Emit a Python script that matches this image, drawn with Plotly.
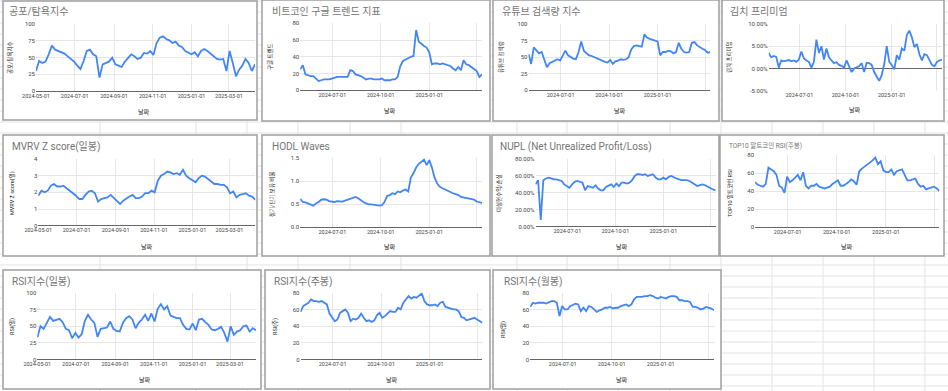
import plotly.graph_objects as go
import pandas as pd

W, H = 948, 391

# ---- data (one reading every 5 days) ----
dates = pd.date_range('2024-05-01', periods=70, freq='5D')

fear_greed = [30, 45, 42, 44, 55, 68, 62, 60, 57, 56, 52, 48, 44, 38, 33, 45, 60, 62, 55, 52,
              20, 40, 42, 44, 50, 40, 38, 36, 44, 50, 55, 52, 48, 50, 57, 56, 60, 54, 72, 80,
              82, 78, 76, 72, 74, 68, 66, 60, 57, 55, 58, 52, 60, 63, 60, 56, 52, 48, 47, 48,
              30, 60, 42, 22, 32, 38, 48, 42, 30, 40]
google_trend = [25, 30, 19, 18, 17, 17, 14, 11, 12, 13, 13, 13, 14, 15, 16, 16, 16, 16, 16, 24,
                23, 19, 18, 17, 15, 13, 14, 14, 13, 13, 13, 14, 12, 12, 12, 13, 13, 16, 29, 35,
                37, 38, 40, 41, 72, 58, 55, 53, 51, 45, 31, 32, 32, 31, 32, 31, 30, 29, 26, 24,
                28, 24, 36, 31, 30, 28, 26, 23, 16, 19]
youtube = [55, 40, 65, 60, 56, 58, 48, 35, 41, 43, 45, 47, 45, 52, 60, 53, 50, 48, 47, 58,
           74, 60, 56, 53, 52, 50, 48, 47, 44, 43, 42, 46, 40, 44, 45, 47, 46, 47, 50, 62,
           67, 68, 67, 66, 85, 80, 78, 77, 76, 74, 53, 58, 58, 60, 59, 56, 58, 72, 63, 58,
           57, 58, 72, 73, 68, 65, 63, 61, 57, 58]
kimchi = [3.5, 2.5, 2.8, 2.6, 0.2, 1.8, 1.6, 1.7, 1.9, 1.6, 1.8, 1.5, 2.0, 3.8, 2.3, 1.8, 1.5, 0.2, 1.5, 6.5,
          3.5, 5.0, 2.0, 4.5, 2.5, 1.8, 1.2, 1.4, 0.8, 0.6, 0.2, 1.8, 0.5, -0.8, 0.0, 0.3, 0.5, 1.2, -0.8, 1.3,
          1.2, 0.8, -0.8, -1.8, -2.8, -1.5, 1.0, 5.0, 1.5, 0.8, -0.2, 3.0, 2.0, 4.5, 4.0, 7.5, 8.5, 7.0, 4.8, 5.5,
          3.2, 1.8, 3.2, 3.0, 1.8, 0.8, 0.5, 1.5, 1.8, 2.0]
mvrv_z = [1.8, 2.1, 2.0, 2.1, 2.4, 2.5, 2.35, 2.35, 2.4, 2.25, 2.15, 1.95, 1.8, 1.6, 1.6, 1.85, 2.05, 2.1, 1.95, 1.45,
          1.6, 1.65, 1.7, 1.85, 1.65, 1.45, 1.3, 1.5, 1.65, 1.75, 1.85, 1.65, 1.65, 1.75, 1.95, 1.95, 2.1, 2.0, 2.7, 3.0,
          3.1, 3.25, 3.2, 3.1, 3.15, 3.05, 3.35, 3.0, 2.85, 2.75, 2.6, 2.85, 3.0, 2.95, 2.8, 2.65, 2.5, 2.5, 2.45, 2.45,
          2.3, 1.95, 2.05, 1.7, 1.85, 1.9, 1.95, 1.8, 1.75, 1.55]
hodl = [0.62, 0.55, 0.54, 0.52, 0.49, 0.47, 0.52, 0.55, 0.60, 0.61, 0.60, 0.57, 0.56, 0.55, 0.57, 0.57, 0.56, 0.58, 0.60, 0.61,
        0.64, 0.66, 0.63, 0.58, 0.55, 0.52, 0.50, 0.50, 0.49, 0.48, 0.47, 0.48, 0.55, 0.68, 0.70, 0.74, 0.72, 0.78, 0.76, 0.80,
        0.82, 0.78, 1.08, 1.18, 1.30, 1.38, 1.42, 1.47, 1.35, 1.46, 1.30, 1.08, 0.95, 0.88, 0.85, 0.82, 0.80, 0.77, 0.74, 0.72,
        0.70, 0.66, 0.65, 0.63, 0.62, 0.62, 0.60, 0.56, 0.54, 0.53]
nupl = [50, 55, 8, 55, 57, 58, 57, 56, 56, 55, 54, 50, 48, 46, 50, 53, 54, 53, 52, 43,
        48, 47, 46, 49, 45, 43, 43, 47, 49, 50, 47, 51, 48, 52, 52, 51, 52, 55, 60, 62,
        62, 61, 62, 60, 61, 62, 58, 56, 56, 58, 56, 59, 60, 58, 57, 56, 55, 55, 55, 54,
        52, 49, 48, 49, 50, 49, 47, 46, 44, 43]
alt_rsi = [50, 47, 46, 45, 48, 66, 64, 62, 58, 46, 44, 38, 56, 50, 52, 55, 58, 52, 61, 46,
           43, 46, 46, 48, 45, 44, 43, 44, 45, 48, 50, 52, 46, 46, 48, 50, 53, 51, 47, 62,
           65, 67, 69, 72, 74, 77, 70, 73, 63, 61, 61, 64, 58, 62, 63, 64, 58, 52, 52, 53,
           54, 48, 45, 46, 42, 43, 44, 45, 43, 40]
rsi_day = [33, 50, 46, 55, 64, 58, 60, 61, 56, 46, 44, 32, 40, 33, 38, 58, 67, 60, 55, 34,
           46, 47, 48, 57, 46, 43, 42, 55, 62, 65, 60, 47, 55, 60, 67, 58, 69, 57, 76, 83,
           75, 80, 66, 64, 62, 62, 52, 46, 45, 54, 44, 60, 61, 56, 52, 45, 44, 46, 49, 40,
           27, 50, 37, 42, 44, 50, 51, 42, 47, 44]
rsi_week = [57, 64, 66, 68, 72, 70, 70, 69, 70, 68, 66, 55, 50, 46, 48, 56, 58, 60, 56, 46,
            49, 48, 50, 55, 50, 46, 47, 45, 47, 53, 56, 50, 52, 55, 58, 57, 57, 62, 60, 68,
            72, 76, 73, 75, 74, 76, 79, 70, 66, 65, 65, 66, 64, 68, 69, 63, 62, 61, 60, 60,
            58, 51, 50, 47, 48, 49, 50, 48, 46, 44]
rsi_month = [63, 68, 67, 68, 68, 68, 67, 69, 70, 70, 68, 52, 64, 60, 60, 64, 66, 67, 66, 58,
             62, 58, 64, 63, 60, 57, 59, 60, 62, 62, 63, 61, 62, 62, 64, 65, 66, 64, 66, 72,
             75, 75, 75, 76, 76, 77, 76, 74, 73, 75, 74, 73, 75, 76, 76, 75, 71, 71, 70, 70,
             69, 63, 63, 62, 60, 61, 63, 62, 61, 59]

BI_TICKS = ['2024-05-01', '2024-07-01', '2024-09-01', '2024-11-01', '2025-01-01', '2025-03-01']
Q_TICKS = ['2024-07-01', '2024-10-01', '2025-01-01', '2025-04-01']

FONT = 'Roboto, "Noto Sans CJK KR", sans-serif'
BLUE = '#4285F4'

charts = [
    dict(title='공포/탐욕지수', tsize=10, tpos=(7, 12), box=(3, 1, 257, 120), plot=(36, 24.3, 255, 91),
         ytitle='공포/탐욕지수', ypos=(10, 58), xpos=(144, 111.5), values=fear_greed,
         yvals=[0, 25, 50, 75, 100], ytext=['0', '25', '50', '75', '100'], xt=BI_TICKS),
    dict(title='비트코인 구글 트렌드 지표', tsize=10, tpos=(270, 12), box=(262, 0, 490, 121), plot=(300.2, 23.3, 482, 90.3),
         ytitle='구글 트렌드', ypos=(270, 57), xpos=(390, 111), values=google_trend,
         yvals=[0, 20, 40, 60, 80], ytext=['0', '20', '40', '60', '80'], xt=Q_TICKS),
    dict(title='유튜브 검색량 지수', tsize=10, tpos=(500, 12), box=(493, 0, 719, 121), plot=(528.5, 24.3, 710.3, 90.3),
         ytitle='유튜브 검색량', ypos=(501, 57), xpos=(620, 111), values=youtube,
         yvals=[0, 25, 50, 75, 100], ytext=['0', '25', '50', '75', '100'], xt=Q_TICKS),
    dict(title='김치 프리미엄', tsize=10, tpos=(728, 12), box=(722, 0, 944, 121), plot=(768.7, 24, 942, 90.7),
         ytitle='김치 프리미엄', ypos=(729, 57), xpos=(855, 110), values=kimchi,
         yvals=[-5, 0, 5, 10], ytext=['-5.00%', '0.00%', '5.00%', '10.00%'], xt=Q_TICKS),
    dict(title='MVRV Z score(일봉)', tsize=10, tpos=(10, 147), box=(3, 135, 257, 256), plot=(38.3, 159, 255.3, 225.7),
         ytitle='MVRV Z score(일)', ypos=(12, 193), xpos=(147, 246.5), values=mvrv_z,
         yvals=[0, 1, 2, 3, 4], ytext=['0', '1', '2', '3', '4'], xt=BI_TICKS),
    dict(title='HODL Waves', tsize=10, tpos=(270, 147), box=(262, 135, 490, 256), plot=(300.2, 158.3, 482, 227.3),
         ytitle='장기/단기 보유 비율', ypos=(272, 195), xpos=(390, 246.5), values=hodl,
         yvals=[0, 0.5, 1.0, 1.5], ytext=['0.0', '0.5', '1.0', '1.5'], xt=Q_TICKS),
    dict(title='NUPL (Net Unrealized Profit/Loss)', tsize=10, tpos=(498, 147), box=(492, 135, 719, 256), plot=(535.5, 159, 715.6, 226.7),
         ytitle='미실현수익/손실', ypos=(499, 193), xpos=(622, 246.5), values=nupl,
         yvals=[0, 20, 40, 60, 80], ytext=['0.00%', '20.00%', '40.00%', '60.00%', '80.00%'], xt=Q_TICKS),
    dict(title='TOP10 알트코인 RSI(주봉)', tsize=6.5, tpos=(727, 145), box=(720, 135, 944, 256), plot=(755.1, 155, 939.4, 227.3),
         ytitle='TOP10 알트코인 RSI', ypos=(730, 193), xpos=(847, 246.5), values=alt_rsi,
         yvals=[0, 20, 40, 60, 80], ytext=['0', '20', '40', '60', '80'], xt=Q_TICKS),
    dict(title='RSI지수(일봉)', tsize=10, tpos=(10, 282), box=(3, 270, 261, 389), plot=(37.3, 292.7, 256, 359.7),
         ytitle='RSI(일)', ypos=(12, 327), xpos=(145, 380), values=rsi_day,
         yvals=[0, 25, 50, 75, 100], ytext=['0', '25', '50', '75', '100'], xt=BI_TICKS),
    dict(title='RSI지수(주봉)', tsize=10, tpos=(272, 282), box=(265, 270, 490, 389), plot=(300.5, 292.7, 482.4, 359.7),
         ytitle='RSI(주)', ypos=(275, 327), xpos=(392, 380), values=rsi_week,
         yvals=[0, 20, 40, 60, 80], ytext=['0', '20', '40', '60', '80'], xt=Q_TICKS),
    dict(title='RSI지수(월봉)', tsize=10, tpos=(502, 282), box=(493, 270, 721, 389), plot=(530.2, 292.7, 714, 359.7),
         ytitle='RSI(월)', ypos=(503, 330), xpos=(622, 380), values=rsi_month,
         yvals=[0, 20, 40, 60, 80], ytext=['0', '20', '40', '60', '80'], xt=Q_TICKS),
]


def fx(x):
    return x / W


def fy(y):
    return 1 - y / H


fig = go.Figure()
shapes = []
annotations = []

grid_col = '#e2e3e3'
for k in range(36):
    y = 1 + 11 * k
    shapes.append(dict(type='line', xref='paper', yref='paper', x0=0, x1=1, y0=fy(y), y1=fy(y),
                       line=dict(color=grid_col, width=1), layer='below'))
for x in [100, 196, 247, 298, 350, 401, 517, 567, 618, 670, 721, 772, 823, 874, 925]:
    shapes.append(dict(type='line', xref='paper', yref='paper', x0=fx(x), x1=fx(x), y0=0, y1=1,
                       line=dict(color=grid_col, width=1), layer='below'))

layout_axes = {}
for i, c in enumerate(charts, start=1):
    xs, yt, xe, yb = c['plot']
    bx0, by0, bx1, by1 = c['box']
    shapes.append(dict(type='rect', xref='paper', yref='paper', x0=fx(bx0), x1=fx(bx1), y0=fy(by1), y1=fy(by0),
                       fillcolor='white', line=dict(color='#9e9e9e', width=1.5), layer='below'))
    xa = 'x' if i == 1 else f'x{i}'
    ya = 'y' if i == 1 else f'y{i}'
    fig.add_trace(go.Scatter(x=dates, y=c['values'], mode='lines', xaxis=xa, yaxis=ya,
                             line=dict(color=BLUE, width=1.8), showlegend=False, hoverinfo='skip'))
    xt = c['xt']
    xtext = [t if (t != '2025-04-01') else '' for t in xt]
    layout_axes['xaxis' if i == 1 else f'xaxis{i}'] = dict(
        domain=[fx(xs), fx(xe)], anchor=ya, range=[dates[0], dates[-1]], type='date',
        tickvals=xt, ticktext=xtext, showgrid=True, gridcolor='#e6e6e6', gridwidth=1,
        zeroline=False, showline=False, ticks='', tickfont=dict(size=5.5, color='#444', family=FONT),
        fixedrange=True, automargin=False)
    ylo, yhi = c['yvals'][0], c['yvals'][-1]
    layout_axes['yaxis' if i == 1 else f'yaxis{i}'] = dict(
        domain=[fy(yb), fy(yt)], anchor=xa, range=[ylo, yhi], tickvals=c['yvals'], ticktext=c['ytext'],
        showgrid=True, gridcolor='#e6e6e6', gridwidth=1, zeroline=True, zerolinecolor='#666666',
        zerolinewidth=1, showline=False, ticks='', tickfont=dict(size=6, color='#444', family=FONT),
        fixedrange=True, automargin=False)
    annotations.append(dict(text=c['title'], xref='paper', yref='paper', x=fx(c['tpos'][0]), y=fy(c['tpos'][1]),
                            xanchor='left', yanchor='middle', showarrow=False,
                            font=dict(size=c['tsize'], color='#757575', family=FONT)))
    annotations.append(dict(text=c['ytitle'], xref='paper', yref='paper', x=fx(c['ypos'][0]), y=fy(c['ypos'][1]),
                            xanchor='center', yanchor='middle', showarrow=False, textangle=-90,
                            font=dict(size=5.5, color='#222', family=FONT)))
    annotations.append(dict(text='날짜', xref='paper', yref='paper', x=fx(c['xpos'][0]), y=fy(c['xpos'][1]),
                            xanchor='center', yanchor='middle', showarrow=False,
                            font=dict(size=6, color='#222', family=FONT)))

fig.update_layout(width=W, height=H, margin=dict(l=0, r=0, t=0, b=0, pad=0, autoexpand=False),
                  paper_bgcolor='white', plot_bgcolor='rgba(0,0,0,0)', shapes=shapes,
                  annotations=annotations, font=dict(family=FONT), **layout_axes)

fig.write_html('out.html', config={'displayModeBar': False, 'staticPlot': True},
               post_script="document.body.style.margin='0';document.body.style.padding='0';"
                           "document.body.style.overflow='hidden';"
                           "document.documentElement.style.overflow='hidden';")
